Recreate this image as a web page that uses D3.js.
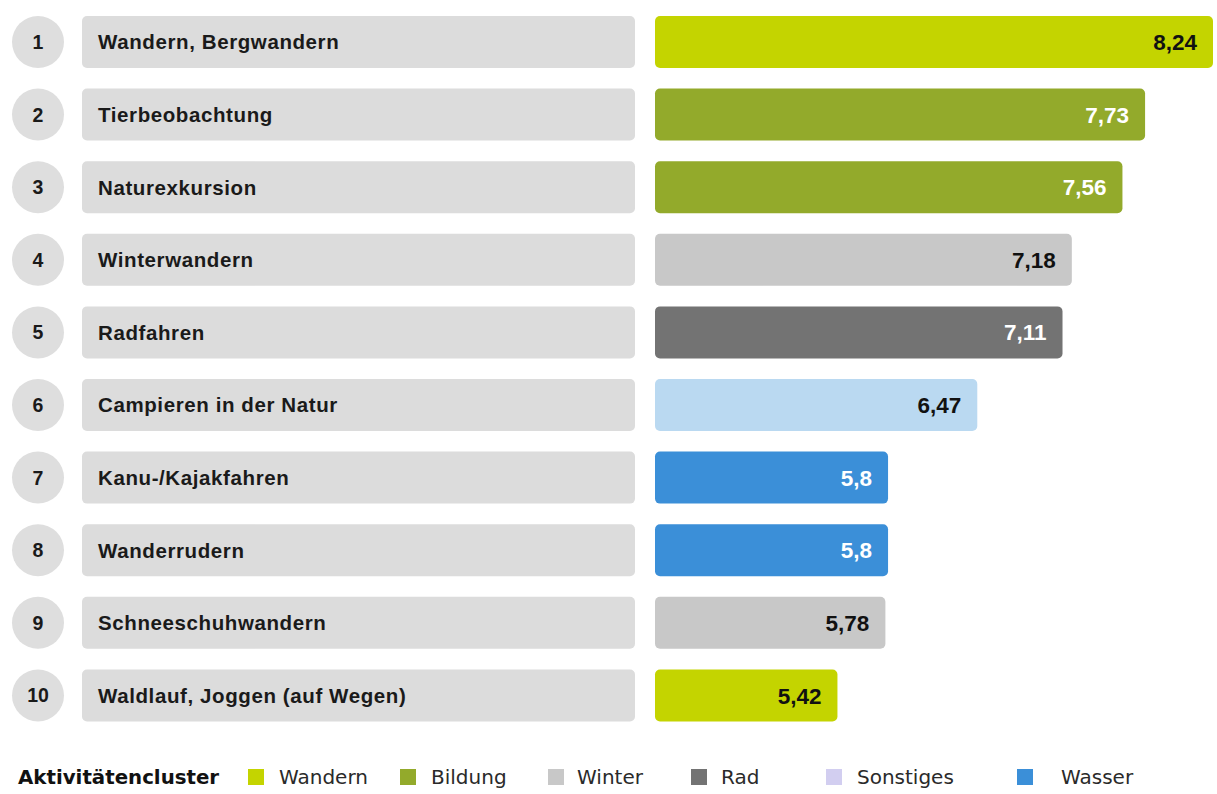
<!DOCTYPE html>
<html><head><meta charset="utf-8">
<script src="https://cdn.jsdelivr.net/npm/d3@7"></script>
<style>body{margin:0;background:#fff}svg{display:block}</style>
</head><body>
<script>
const activities = ["Wandern, Bergwandern","Tierbeobachtung","Naturexkursion","Winterwandern","Radfahren","Campieren in der Natur","Kanu-/Kajakfahren","Wanderrudern","Schneeschuhwandern","Waldlauf, Joggen (auf Wegen)"];
const values = [8.24,7.73,7.56,7.18,7.11,6.47,5.8,5.8,5.78,5.42];
const clusters = ["Wandern","Bildung","Bildung","Winter","Rad","Camping","Wasser","Wasser","Winter","Wandern"];
const legendLabels = ["Wandern","Bildung","Winter","Rad","Sonstiges","Wasser"];
const colorMap = {Wandern:"#c4d400",Bildung:"#93aa2b",Winter:"#c8c8c8",Rad:"#737373",Sonstiges:"#d2cef0",Wasser:"#3b8fd8",Camping:"#bad9f1"};
const darkText = {Wandern:false,Bildung:true,Winter:false,Rad:true,Camping:false,Wasser:true};

const W=1217,H=794;
const svg=d3.select("body").append("svg").attr("width",W).attr("height",H);
const y=d3.scaleBand().domain(activities).range([16,721.4]).paddingInner(0.284).paddingOuter(0);
const x=d3.scaleLinear().domain([4.05,8.24]).range([655,1213]);
const fmt=v=>String(v).replace(".",",");
const F="'Liberation Sans', Arial, Helvetica, sans-serif";

const rows=svg.selectAll("g.row").data(activities).join("g").attr("class","row");
rows.append("circle").attr("cx",38).attr("cy",d=>y(d)+y.bandwidth()/2).attr("r",26).attr("fill","#dedede");
rows.append("text").attr("x",38).attr("y",d=>y(d)+y.bandwidth()/2).attr("dy","0.36em").attr("text-anchor","middle")
  .attr("font-family",F).attr("font-weight","bold").attr("font-size",19.5).attr("fill","#1a1a1a")
  .text((d,i)=>i+1);
rows.append("rect").attr("x",82).attr("y",d=>y(d)).attr("width",553).attr("height",y.bandwidth()).attr("rx",5).attr("fill","#dcdcdc");
rows.append("text").attr("x",98).attr("y",d=>y(d)+y.bandwidth()/2).attr("dy","0.36em")
  .attr("font-family",F).attr("font-weight","bold").attr("font-size",20.5).attr("letter-spacing",0.6).attr("fill","#1a1a1a")
  .text(d=>d);
rows.append("rect").attr("x",x(4.05)).attr("y",d=>y(d)).attr("width",(d,i)=>x(values[i])-x(4.05)).attr("height",y.bandwidth()).attr("rx",5)
  .attr("fill",(d,i)=>colorMap[clusters[i]]);
rows.append("text").attr("x",(d,i)=>x(values[i])-16).attr("y",d=>y(d)+y.bandwidth()/2).attr("dy","0.36em").attr("text-anchor","end")
  .attr("font-family",F).attr("font-weight","bold").attr("font-size",22.5)
  .attr("fill",(d,i)=>darkText[clusters[i]]?"#ffffff":"#111")
  .text((d,i)=>fmt(values[i]));

// legend
const ly=777;
svg.append("text").attr("x",18).attr("y",ly).attr("dy","0.36em").attr("font-family","'DejaVu Sans', Verdana, sans-serif").attr("font-weight","bold")
  .attr("font-size",19.8).attr("fill","#111").text("Aktivitätencluster");
const legX=[248,400,548,691,826,1017];
const legTextOff=[31,31,29,30,31,44];
const lg=svg.selectAll("g.leg").data(legendLabels).join("g").attr("class","leg");
lg.append("rect").attr("x",(d,i)=>legX[i]).attr("y",ly-8).attr("width",16).attr("height",16).attr("fill",d=>colorMap[d]);
lg.append("text").attr("x",(d,i)=>legX[i]+legTextOff[i]).attr("y",ly).attr("dy","0.36em").attr("font-family","'DejaVu Sans', Verdana, sans-serif")
  .attr("font-size",20).attr("fill","#2a2a2a").text(d=>d);
</script>
</body></html>
